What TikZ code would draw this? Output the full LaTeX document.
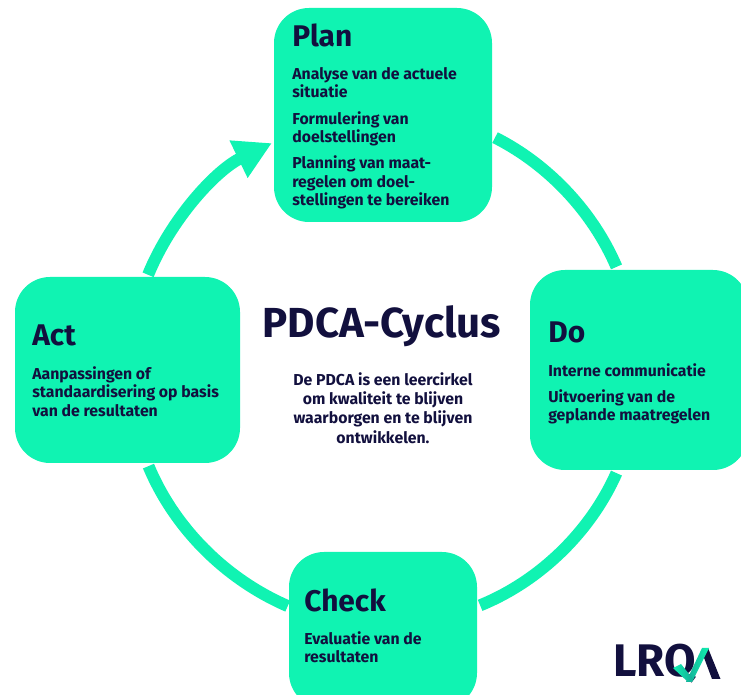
\documentclass[tikz,border=0pt]{standalone}
\usepackage{fontspec}
\setmainfont{Fira Sans}
\usetikzlibrary{arrows.meta}
\definecolor{mint}{RGB}{16,243,178}
\definecolor{teal}{RGB}{20,170,150}
\definecolor{navy}{RGB}{18,16,62}
\newcommand{\pxu}{0.02cm}
\tikzset{
  phase/.style={fill=mint,rounded corners=0.7cm,inner sep=0pt},
  loopline/.style={draw=mint,line width=0.24cm,looseness=0.88},
  heading/.style={anchor=west,inner sep=0pt,text=navy,font=\fontsize{17}{20}\selectfont\bfseries},
  bodytext/.style={anchor=north west,inner sep=0pt,text=navy,align=left,font=\fontsize{9}{10.5}\selectfont\bfseries},
}
\begin{document}
\begin{tikzpicture}[x=\pxu,y=-\pxu]
\useasboundingbox (0,0) rectangle (741,695);
\clip (0,0) rectangle (741,695);
% phases
\node[phase,minimum width=218*\pxu,minimum height=214*\pxu] (plan) at (383,115) {};
\node[phase,minimum width=218*\pxu,minimum height=200*\pxu] (do) at (639,370) {};
\node[phase,minimum width=188*\pxu,minimum height=156*\pxu] (check) at (383,630) {};
\node[phase,minimum width=225*\pxu,minimum height=186*\pxu] (act) at (127.5,370) {};
% loop
\draw[loopline,shorten <=3*\pxu,shorten >=3*\pxu] (plan.-11) to[bend left=20] (do.102);
\draw[loopline,shorten <=3*\pxu,shorten >=3*\pxu] (do.-102) to[bend left=22] (check.14);
\draw[loopline,shorten <=1*\pxu,shorten >=3*\pxu] (check.166) to[bend left=22] (act.-78);
\draw[loopline,shorten <=2*\pxu,shorten >=2*\pxu,-{Triangle[length=0.74cm,width=0.78cm]}] (act.78) to[bend left=21] (plan.194);
% headings
\node[heading] (plantitle) at (292,35) {Plan};
\node[heading] (dotitle) at (548,332) {Do};
\node[heading] (checktitle) at (304,600) {Check};
\node[heading] (acttitle) at (32,335) {Act};
% texts
\node[bodytext] (plantext) at (292,67) {Analyse van de actuele\\situatie\\[4.5pt]Formulering van\\doelstellingen\\[4.5pt]Planning van maat-\\regelen om doel-\\stellingen te bereiken};
\node[bodytext] (dotext) at (548,363) {Interne communicatie\\[4.5pt]Uitvoering van de\\geplande maatregelen};
\node[bodytext] (checktext) at (304,631) {Evaluatie van de\\resultaten};
\node[bodytext] (acttext) at (32,366) {Aanpassingen of\\standaardisering op basis\\van de resultaten};
% centre
\node[inner sep=0pt,text=navy,font=\fontsize{23.9}{28}\selectfont\bfseries] (name) at (382,326) {PDCA-Cyclus};
\node[inner sep=0pt,text=navy,align=center,font=\fontsize{9}{11}\selectfont\bfseries] (about) at (383,408) {De PDCA is een leercirkel\\om kwaliteit te blijven\\waarborgen en te blijven\\ontwikkelen.};
% logo
\node[anchor=west,inner sep=0pt,text=navy,font=\fontsize{26}{30}\selectfont\bfseries] (logo) at (613,664) {LRQ};
\fill[navy] (708,648) -- (720.5,679) -- (712,679) -- (703,655) -- cycle;
\shade[left color=teal,right color=mint] (702,648) -- (709,648) -- (692,682) -- (686,682) -- cycle;
\shade[left color=mint,right color=teal] (673,668) -- (681,664) -- (693,679) -- (688,682) -- cycle;
\end{tikzpicture}
\end{document}
